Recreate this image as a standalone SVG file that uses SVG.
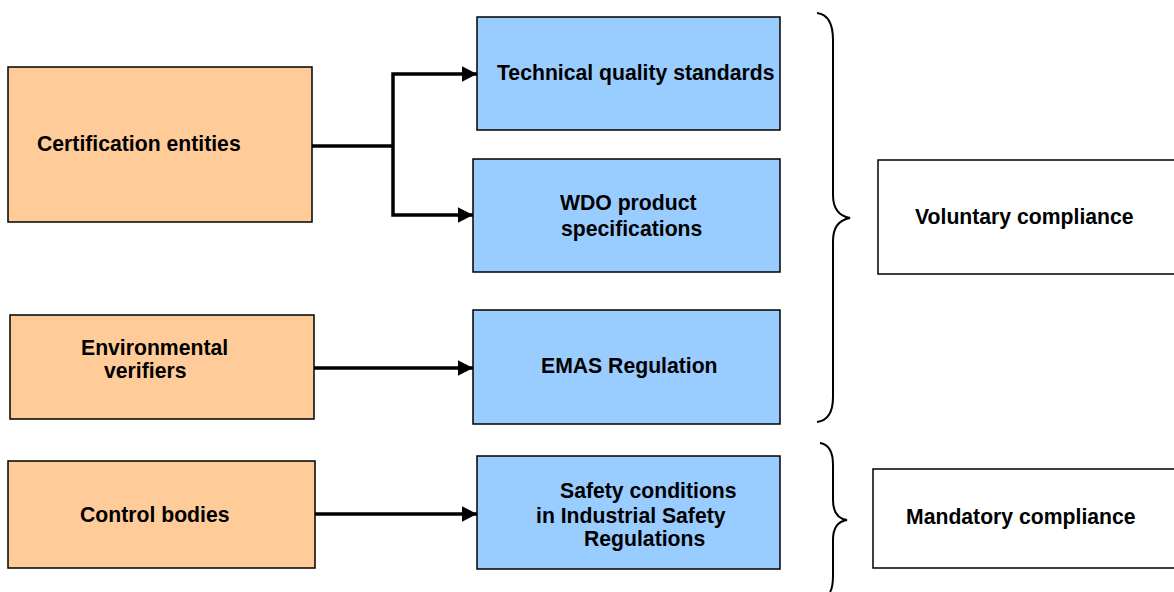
<svg xmlns="http://www.w3.org/2000/svg" width="1174" height="592" viewBox="0 0 1174 592">
<style>
.o{fill:#FFCC99;stroke:#000;stroke-width:1.5}
.b{fill:#99CCFF;stroke:#000;stroke-width:1.5}
.w{fill:#fff;stroke:#000;stroke-width:1.5}
text{font-family:"Liberation Sans",Arial,sans-serif;font-weight:bold;font-size:21.2px;fill:#000}
.c{fill:none;stroke:#000;stroke-width:3.5}
.br{fill:none;stroke:#000;stroke-width:2}
</style>
<defs>
<marker id="ah" markerWidth="4.4" markerHeight="4.6" refX="4.4" refY="2.3" orient="auto" markerUnits="strokeWidth">
<path d="M0,0 L4.4,2.3 L0,4.6 Z" fill="#000"/>
</marker>
</defs>
<rect width="1174" height="592" fill="#fff"/>
<g id="cert"><rect class="o" x="8" y="67" width="304" height="155"/><text x="37" y="151">Certification entities</text></g>
<g id="env"><rect class="o" x="10" y="315" width="304" height="104"/><text x="81" y="355">Environmental</text><text x="104" y="378">verifiers</text></g>
<g id="ctrl"><rect class="o" x="8" y="461" width="307" height="107"/><text x="80" y="522">Control bodies</text></g>
<g id="tech"><rect class="b" x="477" y="17" width="303" height="113"/><text x="497" y="80">Technical quality standards</text></g>
<g id="wdo"><rect class="b" x="473" y="159" width="307" height="113"/><text x="560" y="210">WDO product</text><text x="561" y="236">specifications</text></g>
<g id="emas"><rect class="b" x="473" y="310" width="307" height="114"/><text x="541" y="373">EMAS Regulation</text></g>
<g id="safety"><rect class="b" x="477" y="456" width="303" height="113"/><text x="560" y="498">Safety conditions</text><text x="536" y="523">in Industrial Safety</text><text x="584" y="546">Regulations</text></g>
<g id="vol"><rect class="w" x="878" y="160" width="300" height="114"/><text x="915" y="224">Voluntary compliance</text></g>
<g id="man"><rect class="w" x="873" y="469" width="305" height="99"/><text x="906" y="524">Mandatory compliance</text></g>
<g id="connectors">
<path class="c" d="M312,146 H393"/>
<path class="c" d="M393,146 V74 H477" marker-end="url(#ah)"/>
<path class="c" d="M393,146 V215 H473" marker-end="url(#ah)"/>
<path class="c" d="M314,368 H473" marker-end="url(#ah)"/>
<path class="c" d="M315,514 H477" marker-end="url(#ah)"/>
</g>
<g id="braces">
<path class="br" d="M817,13 Q833,15 833,40 V195 Q833,215 850,218 Q833,221 833,241 V397 Q833,420 817,422"/>
<path class="br" d="M820,443 Q833,445 833,465 V500 Q833,518 847,520 Q833,522 833,540 V575 Q833,588 830,592"/>
</g>
</svg>
